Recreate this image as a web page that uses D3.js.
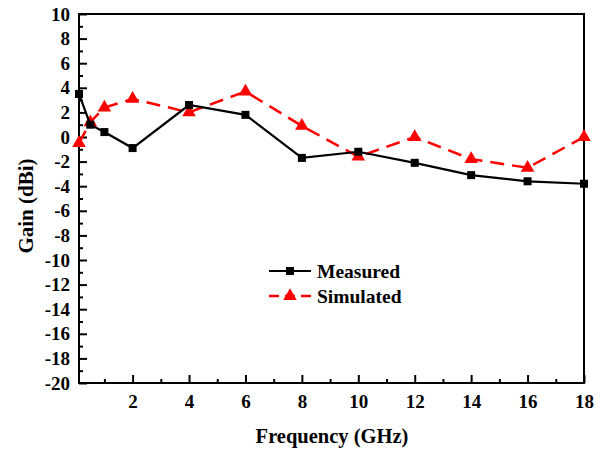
<!DOCTYPE html>
<html>
<head>
<meta charset="utf-8">
<script src="https://cdn.jsdelivr.net/npm/d3@7"></script>
<style>
  html, body { margin: 0; padding: 0; background: #fff; }
  text { font-family: "Liberation Serif", "Times New Roman", serif; font-weight: bold; }
</style>
</head>
<body>
<svg id="chart" width="608" height="450"></svg>
<script>
// Frequency points (GHz)
const freqs = [0.1, 0.5, 1, 2, 4, 6, 8, 10, 12, 14, 16, 18];
// Gain (dBi)
const measured  = [3.5, 1.0, 0.4, -0.9, 2.6, 1.8, -1.7, -1.2, -2.1, -3.1, -3.6, -3.8];
const simulated = [-0.5, 1.2, 2.4, 3.1, 2.0, 3.7, 0.9, -1.6, 0.0, -1.8, -2.5, 0.0];
const xTickLabels = [2, 4, 6, 8, 10, 12, 14, 16, 18];
const yTickLabels = [10, 8, 6, 4, 2, 0, -2, -4, -6, -8, -10, -12, -14, -16, -18, -20];
const seriesNames = ["Measured", "Simulated"];

const svg = d3.select("#chart");
const plotL = 79, plotR = 584, plotT = 14, plotB = 383;

const x = d3.scaleLinear().domain([0.1, 18]).range([plotL, plotR]);
const y = d3.scaleLinear().domain([-20, 10]).range([plotB, plotT]);
const plain = d => String(d);

// frame
svg.append("rect")
  .attr("x", plotL).attr("y", plotT)
  .attr("width", plotR - plotL).attr("height", plotB - plotT)
  .attr("fill", "none").attr("stroke", "#000").attr("stroke-width", 2);

// x axis: major ticks every 2 GHz with labels, minor every 1 GHz, pointing inward
const xAxis = d3.axisBottom(x).tickValues(xTickLabels).tickSize(-8).tickPadding(12)
  .tickFormat(plain);
const gx = svg.append("g").attr("transform", `translate(0,${plotB})`).call(xAxis);
gx.select(".domain").remove();
gx.selectAll(".tick line").attr("stroke", "#000").attr("stroke-width", 2);
gx.selectAll(".tick text").attr("font-size", 19).attr("fill", "#000")
  .style("font-family", "Liberation Serif").style("font-weight", "bold");
const xMinor = d3.axisBottom(x).tickValues(d3.range(1, 18, 2)).tickSize(-4).tickFormat("");
const gxm = svg.append("g").attr("transform", `translate(0,${plotB})`).call(xMinor);
gxm.select(".domain").remove();
gxm.selectAll(".tick line").attr("stroke", "#000").attr("stroke-width", 2);

// y axis
const yAxis = d3.axisLeft(y).tickValues(yTickLabels).tickSize(-8).tickPadding(9)
  .tickFormat(plain);
const gy = svg.append("g").attr("transform", `translate(${plotL},0)`).call(yAxis);
gy.select(".domain").remove();
gy.selectAll(".tick line").attr("stroke", "#000").attr("stroke-width", 2);
gy.selectAll(".tick text").attr("font-size", 19).attr("fill", "#000")
  .style("font-family", "Liberation Serif").style("font-weight", "bold");
const yMinor = d3.axisLeft(y).tickValues(d3.range(-19, 10, 2)).tickSize(-4).tickFormat("");
const gym = svg.append("g").attr("transform", `translate(${plotL},0)`).call(yMinor);
gym.select(".domain").remove();
gym.selectAll(".tick line").attr("stroke", "#000").attr("stroke-width", 2);

// axis titles
svg.append("text").attr("x", 332).attr("y", 443).attr("text-anchor", "middle")
  .attr("font-size", 20.5).text("Frequency (GHz)");
svg.append("text").attr("transform", "translate(33,206) rotate(-90)")
  .attr("text-anchor", "middle").attr("font-size", 21).text("Gain (dBi)");

const line = d3.line().x((d, i) => x(freqs[i])).y(d => y(d));
const tri = d3.symbol().type(d3.symbolTriangle).size(80);

// simulated series
svg.append("path").datum(simulated).attr("d", line)
  .attr("fill", "none").attr("stroke", "#ff0000").attr("stroke-width", 2.5)
  .attr("stroke-dasharray", "14,8");
svg.selectAll(".sim").data(simulated).enter().append("path")
  .attr("class", "sim")
  .attr("transform", (d, i) => `translate(${x(freqs[i])},${y(d)})`)
  .attr("d", tri).attr("fill", "#ff0000");

// measured series
svg.append("path").datum(measured).attr("d", line)
  .attr("fill", "none").attr("stroke", "#000").attr("stroke-width", 2.2);
svg.selectAll(".meas").data(measured).enter().append("rect")
  .attr("class", "meas")
  .attr("x", (d, i) => x(freqs[i]) - 4).attr("y", d => y(d) - 4)
  .attr("width", 8).attr("height", 8).attr("fill", "#000");

// legend
const lg = svg.append("g");
[0, 1].forEach(k => {
  const ly = 271 + k * 25;
  lg.append("line").attr("x1", 269).attr("x2", 311).attr("y1", ly).attr("y2", ly)
    .attr("stroke", k ? "#ff0000" : "#000").attr("stroke-width", k ? 2.5 : 2.2)
    .attr("stroke-dasharray", k ? "10,6" : null);
  if (k) {
    lg.append("path").attr("transform", `translate(290,${ly})`).attr("d", tri).attr("fill", "#ff0000");
  } else {
    lg.append("rect").attr("x", 286).attr("y", ly - 4).attr("width", 8).attr("height", 8).attr("fill", "#000");
  }
  lg.append("text").attr("x", 317).attr("y", ly + 7).attr("font-size", 19.5).text(seriesNames[k]);
});
</script>
</body>
</html>
